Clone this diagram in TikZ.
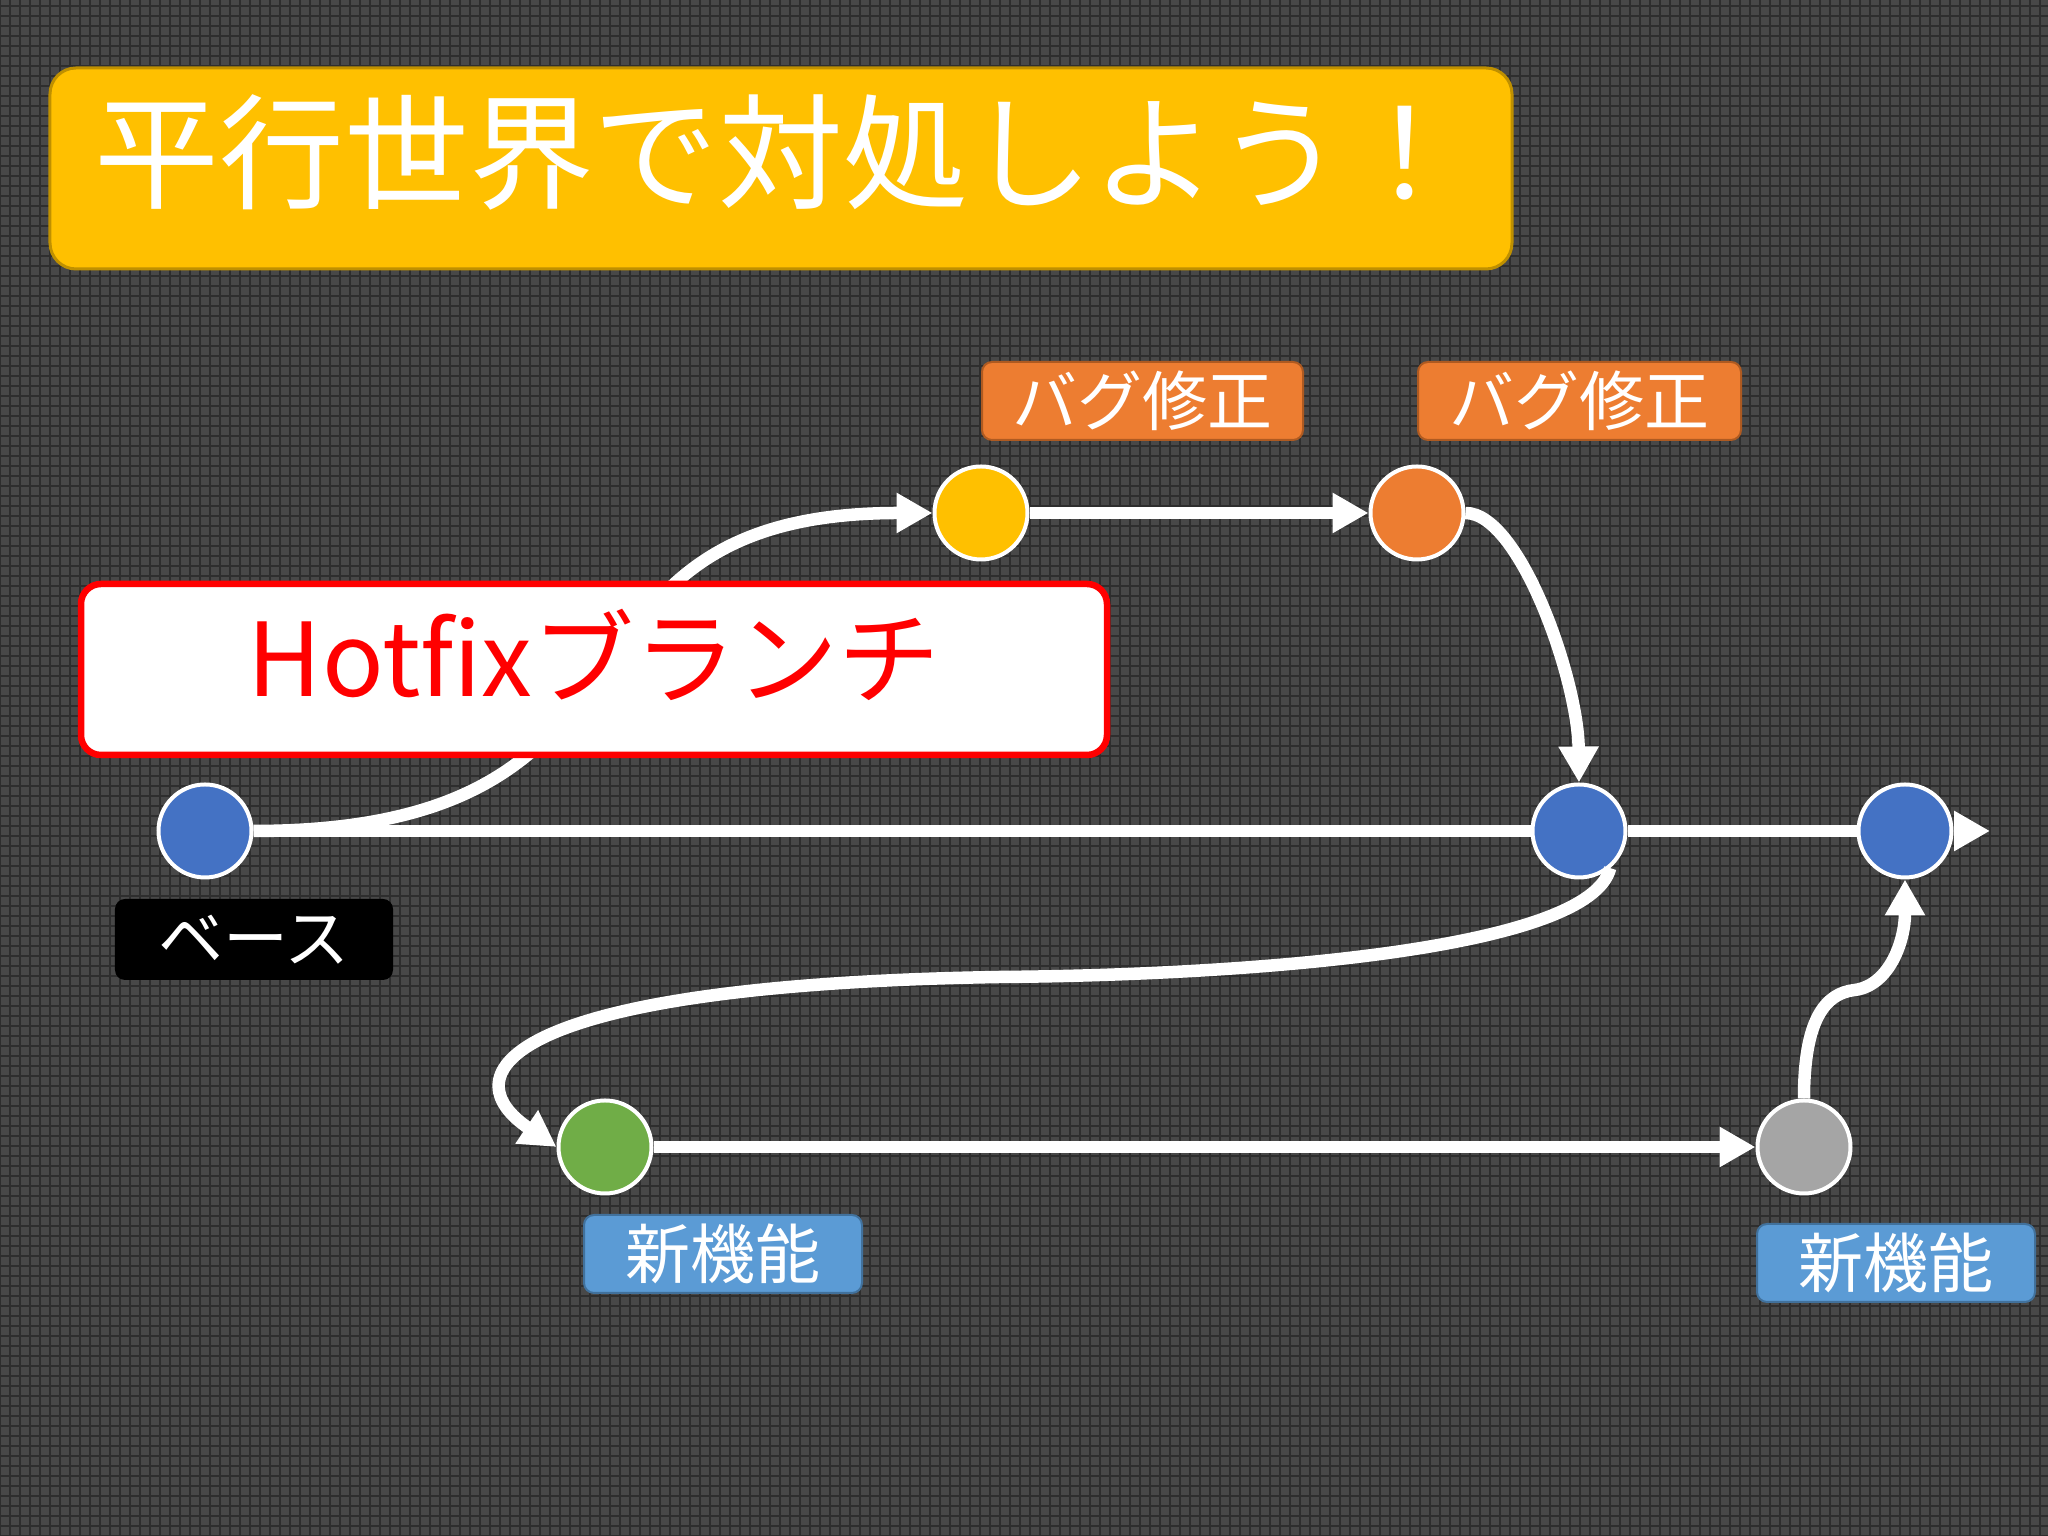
\documentclass[tikz,border=0pt]{standalone}
\usepackage{fontspec}
\setmainfont{Noto Sans CJK JP}
\usetikzlibrary{arrows.meta}
\definecolor{board}{RGB}{72,72,72}
\definecolor{boardline}{RGB}{46,46,46}
\definecolor{gold}{RGB}{255,192,0}
\definecolor{goldline}{RGB}{191,144,0}
\definecolor{fixorange}{RGB}{237,125,49}
\definecolor{fixorangeline}{RGB}{174,90,33}
\definecolor{commitblue}{RGB}{68,114,196}
\definecolor{featgreen}{RGB}{112,173,71}
\definecolor{featgray}{RGB}{165,165,165}
\definecolor{tagblue}{RGB}{91,155,213}
\definecolor{tagblueline}{RGB}{65,113,156}
\tikzset{
commit/.style={ % Sets the look of every commit circle
circle,
draw=white,
line width=0.04cm,
minimum size=0.93cm,
inner sep=0pt},
tag/.style={ % Small rounded labels next to the commits
rounded corners=0.1cm,
minimum height=0.78cm,
inner sep=0pt,
text=white,
font=\fontsize{18.5}{20}\selectfont},
flow/.style={ % White connectors
draw=white,
line width=0.125cm},
tipped/.style={flow, -{Triangle[length=0.36cm,width=0.38cm]}}}

\begin{document}
\begin{tikzpicture}
	\useasboundingbox (0,0) rectangle (20.48,15.36);
	\fill[board] (0,0) rectangle (20.48,15.36);
	\draw[boardline, line width=0.02cm, step=0.1] (0,0) grid (20.48,15.36);
	% title
	\node[fill=gold, draw=goldline, line width=0.03cm, rounded corners=0.26cm, minimum width=14.62cm, minimum height=2.01cm] (titlebar) at (7.81,13.675) {};
	\node[text=white, font=\fontsize{35.5}{40}\selectfont] (title) at ([yshift=0.165cm]titlebar.center) {平行世界で対処しよう！};
	% commits
	\node[commit, fill=commitblue] (base) at (2.05,7.05) {};
	\node[commit, fill=gold] (fixa) at (9.81,10.23) {};
	\node[commit, fill=fixorange] (fixb) at (14.17,10.23) {};
	\node[commit, fill=commitblue] (merge) at (15.79,7.05) {};
	\node[commit, fill=commitblue] (head) at (19.05,7.05) {};
	\node[commit, fill=featgreen] (feata) at (6.05,3.89) {};
	\node[commit, fill=featgray] (featb) at (18.04,3.89) {};
	\coordinate (tipend) at (19.90,7.05);
	% connectors
	\draw[flow] (base) -- (merge);
	\draw[flow] (merge) -- (head);
	\draw[tipped] (head) -- (tipend);
	\draw[tipped] (base.east) .. controls (7.00,7.05) and (5.20,10.23) .. (fixa.west);
	\draw[tipped] (fixa) -- (fixb);
	\draw[tipped] (fixb.east) .. controls (15.20,10.23) and (15.78,8.56) .. (merge.north);
	\draw[tipped] (merge.-50) .. controls (15.90,5.86) and (12.50,5.61) .. (10.00,5.59)
		.. controls (5.00,5.51) and (4.50,4.61) .. (feata.west);
	\draw[tipped] (feata) -- (featb);
	\draw[tipped] (featb.north) .. controls (18.04,5.16) and (18.25,5.43) .. (18.55,5.46)
		.. controls (18.90,5.51) and (19.05,5.96) .. (head.south);
	% hotfix box
	\node[fill=white, draw=red, line width=0.065cm, rounded corners=0.2cm, minimum width=10.26cm, minimum height=1.71cm] (hotbox) at (5.94,8.665) {};
	\node[text=red, font=\fontsize{29}{32}\selectfont] (hotfix) at ([yshift=0.15cm]hotbox.center) {Hotfixブランチ};
	% labels
	\node[tag, fill=fixorange, draw=fixorangeline, line width=0.02cm, minimum width=3.21cm] (buga) at (11.425,11.35) {バグ修正};
	\node[tag, fill=fixorange, draw=fixorangeline, line width=0.02cm, minimum width=3.23cm] (bugb) at (15.795,11.35) {バグ修正};
	\node[tag, fill=black, minimum width=2.78cm, minimum height=0.81cm] (baselbl) at (2.54,5.965) {ベース};
	\node[tag, fill=tagblue, draw=tagblueline, line width=0.02cm, minimum width=2.78cm] (featalbl) at (7.23,2.82) {新機能};
	\node[tag, fill=tagblue, draw=tagblueline, line width=0.02cm, minimum width=2.78cm] (featblbl) at (18.96,2.73) {新機能};
\end{tikzpicture}
\end{document}
